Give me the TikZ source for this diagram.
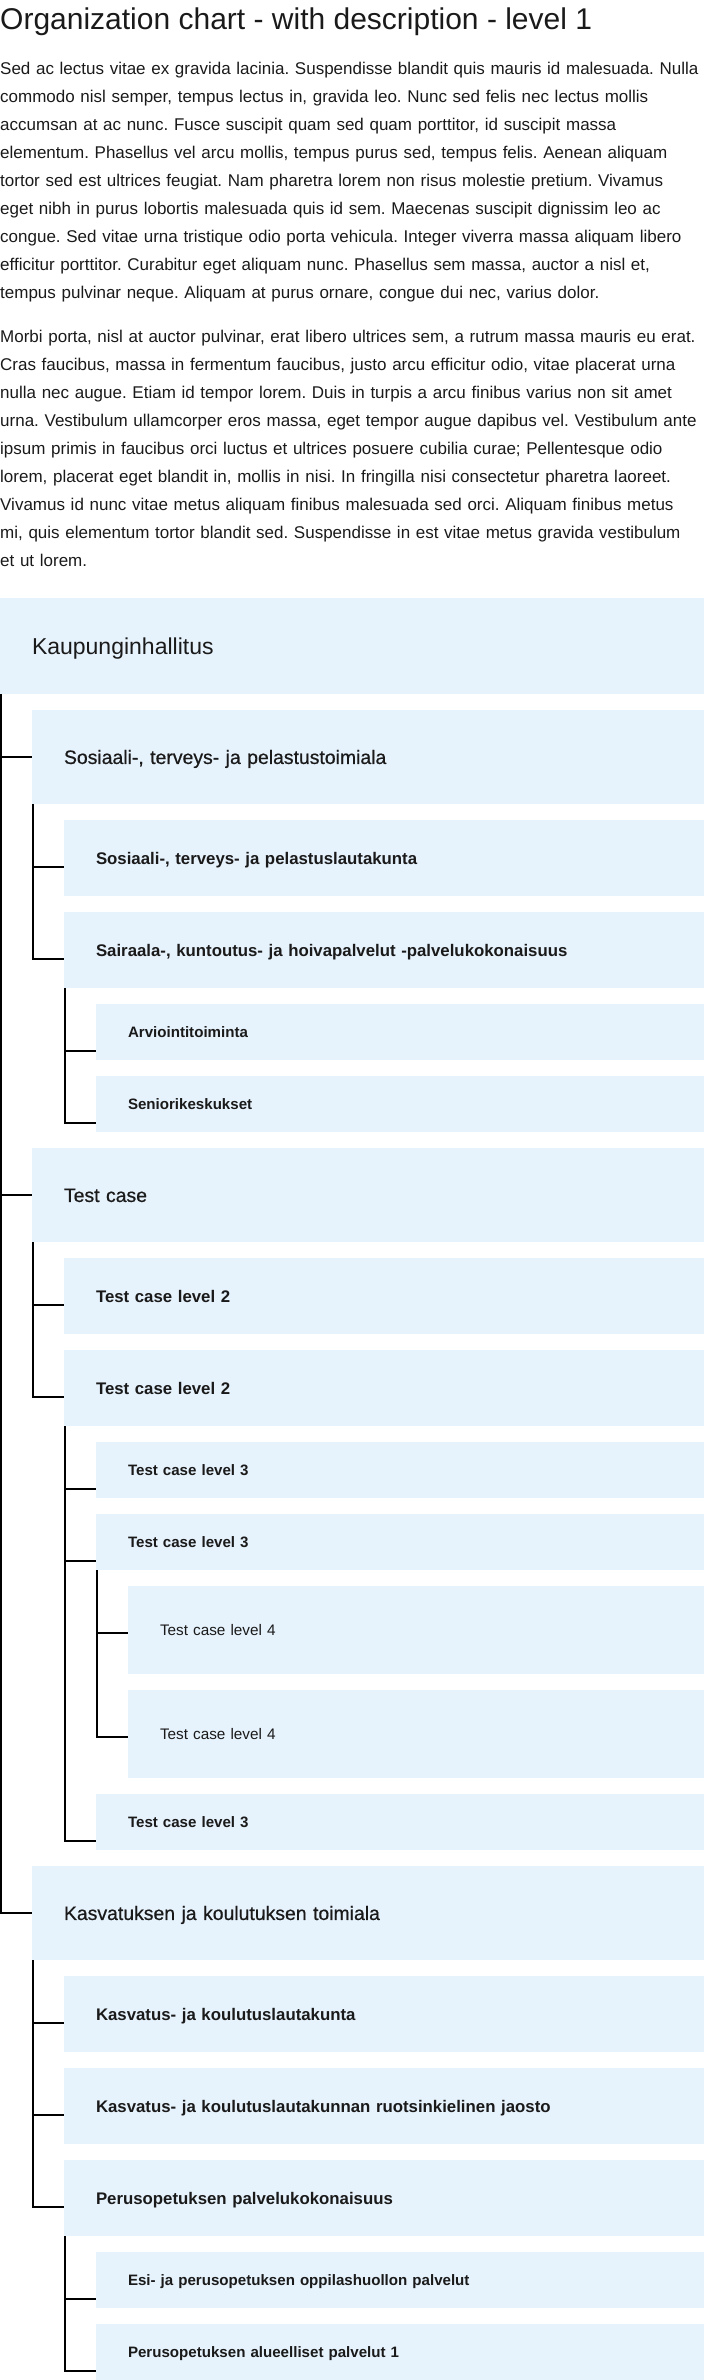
\documentclass[tikz,border=0pt]{standalone}
\usepackage{fontspec}
\setmainfont{Liberation Sans}
\newfontfamily\medfont[FakeBold=0.6]{Liberation Sans}
\usetikzlibrary{positioning}
\definecolor{boxblue}{HTML}{E6F2FC}
\definecolor{ink}{HTML}{1A1A1A}
\frenchspacing

\begin{document}
\begin{tikzpicture}[x=1pt, y=1pt,
  box/.style={fill=boxblue, text=ink, inner xsep=32pt, inner ysep=0pt,
    outer sep=0pt, align=left, text depth=0pt},
  lvzero/.style={box, text width=640pt, minimum height=96pt, text height=16.5pt,
    font=\fontsize{23}{28}\selectfont},
  lvone/.style={box, text width=608pt, minimum height=94pt, text height=13.9pt,
    font=\medfont\fontsize{19.4}{24}\selectfont},
  lvtwo/.style={box, text width=576pt, minimum height=76pt, text height=12pt,
    font=\bfseries\fontsize{16.8}{20}\selectfont},
  lvthree/.style={box, text width=544pt, minimum height=56pt, text height=10.8pt,
    font=\bfseries\fontsize{15.1}{18}\selectfont},
  lvfour/.style={box, text width=512pt, minimum height=88pt, text height=11pt,
    font=\fontsize{15.3}{18}\selectfont},
  belowof/.style={below=16pt of #1.south west, anchor=north west},
  link/.style={draw=black, line width=2pt},
  bodytext/.style={text=ink, inner sep=0pt, align=left, text width=720pt,
    anchor=base west, font=\fontsize{17}{28}\selectfont}]
  \useasboundingbox (0,0) rectangle (704,-2380);

  \node[text=ink, inner sep=0pt, anchor=base west, font=\fontsize{30}{36}\selectfont]
    (title) at (0,-29.5) {Organization chart - with description - level 1};
  \node[bodytext] (intro) at (0,-74) {%
    Sed ac lectus vitae ex gravida lacinia. Suspendisse blandit quis mauris id malesuada. Nulla\\
    commodo nisl semper, tempus lectus in, gravida leo. Nunc sed felis nec lectus mollis\\
    accumsan at ac nunc. Fusce suscipit quam sed quam porttitor, id suscipit massa\\
    elementum. Phasellus vel arcu mollis, tempus purus sed, tempus felis. Aenean aliquam\\
    tortor sed est ultrices feugiat. Nam pharetra lorem non risus molestie pretium. Vivamus\\
    eget nibh in purus lobortis malesuada quis id sem. Maecenas suscipit dignissim leo ac\\
    congue. Sed vitae urna tristique odio porta vehicula. Integer viverra massa aliquam libero\\
    efficitur porttitor. Curabitur eget aliquam nunc. Phasellus sem massa, auctor a nisl et,\\
    tempus pulvinar neque. Aliquam at purus ornare, congue dui nec, varius dolor.};
  \node[bodytext] (morbi) at (0,-342) {%
    Morbi porta, nisl at auctor pulvinar, erat libero ultrices sem, a rutrum massa mauris eu erat.\\
    Cras faucibus, massa in fermentum faucibus, justo arcu efficitur odio, vitae placerat urna\\
    nulla nec augue. Etiam id tempor lorem. Duis in turpis a arcu finibus varius non sit amet\\
    urna. Vestibulum ullamcorper eros massa, eget tempor augue dapibus vel. Vestibulum ante\\
    ipsum primis in faucibus orci luctus et ultrices posuere cubilia curae; Pellentesque odio\\
    lorem, placerat eget blandit in, mollis in nisi. In fringilla nisi consectetur pharetra laoreet.\\
    Vivamus id nunc vitae metus aliquam finibus malesuada sed orci. Aliquam finibus metus\\
    mi, quis elementum tortor blandit sed. Suspendisse in est vitae metus gravida vestibulum\\
    et ut lorem.};

  % level 0
  \node[lvzero, anchor=north west] (kh) at (0,-598) {Kaupunginhallitus};
  % sote
  \node[lvone, belowof=kh, xshift=32pt] (sote) {Sosiaali-, terveys- ja pelastustoimiala};
  \node[lvtwo, belowof=sote, xshift=32pt] (sotelk) {Sosiaali-, terveys- ja pelastuslautakunta};
  \node[lvtwo, belowof=sotelk] (sairaala) {Sairaala-, kuntoutus- ja hoivapalvelut -palvelukokonaisuus};
  \node[lvthree, belowof=sairaala, xshift=32pt] (arvio) {Arviointitoiminta};
  \node[lvthree, belowof=arvio] (seniori) {Seniorikeskukset};
  % test case
  \node[lvone, belowof=seniori, xshift=-64pt] (tc) {Test case};
  \node[lvtwo, belowof=tc, xshift=32pt] (tcA) {Test case level 2};
  \node[lvtwo, belowof=tcA] (tcB) {Test case level 2};
  \node[lvthree, belowof=tcB, xshift=32pt] (tcBa) {Test case level 3};
  \node[lvthree, belowof=tcBa] (tcBb) {Test case level 3};
  \node[lvfour, belowof=tcBb, xshift=32pt] (tcBba) {Test case level 4};
  \node[lvfour, belowof=tcBba] (tcBbb) {Test case level 4};
  \node[lvthree, belowof=tcBbb, xshift=-32pt] (tcBc) {Test case level 3};
  % kasvatus
  \node[lvone, belowof=tcBc, xshift=-64pt] (kasko) {Kasvatuksen ja koulutuksen toimiala};
  \node[lvtwo, belowof=kasko, xshift=32pt] (kaslk) {Kasvatus- ja koulutuslautakunta};
  \node[lvtwo, belowof=kaslk] (jaosto) {Kasvatus- ja koulutuslautakunnan ruotsinkielinen jaosto};
  \node[lvtwo, belowof=jaosto] (perus) {Perusopetuksen palvelukokonaisuus};
  \node[lvthree, belowof=perus, xshift=32pt] (esi) {Esi- ja perusopetuksen oppilashuollon palvelut};
  \node[lvthree, belowof=esi] (alue) {Perusopetuksen alueelliset palvelut 1};

  % connectors
  \draw[link] ([xshift=1pt]kh.south west) |- ([yshift=-47pt]sote.north west)
    ([xshift=1pt]kh.south west) |- ([yshift=-47pt]tc.north west)
    ([xshift=1pt]kh.south west) |- ([yshift=-47pt]kasko.north west);
  \draw[link] ([xshift=1pt]sote.south west) |- ([yshift=-47pt]sotelk.north west)
    ([xshift=1pt]sote.south west) |- ([yshift=-47pt]sairaala.north west);
  \draw[link] ([xshift=1pt]sairaala.south west) |- ([yshift=-47pt]arvio.north west)
    ([xshift=1pt]sairaala.south west) |- ([yshift=-47pt]seniori.north west);
  \draw[link] ([xshift=1pt]tc.south west) |- ([yshift=-47pt]tcA.north west)
    ([xshift=1pt]tc.south west) |- ([yshift=-47pt]tcB.north west);
  \draw[link] ([xshift=1pt]tcB.south west) |- ([yshift=-47pt]tcBa.north west)
    ([xshift=1pt]tcB.south west) |- ([yshift=-47pt]tcBb.north west)
    ([xshift=1pt]tcB.south west) |- ([yshift=-47pt]tcBc.north west);
  \draw[link] ([xshift=1pt]tcBb.south west) |- ([yshift=-47pt]tcBba.north west)
    ([xshift=1pt]tcBb.south west) |- ([yshift=-47pt]tcBbb.north west);
  \draw[link] ([xshift=1pt]kasko.south west) |- ([yshift=-47pt]kaslk.north west)
    ([xshift=1pt]kasko.south west) |- ([yshift=-47pt]jaosto.north west)
    ([xshift=1pt]kasko.south west) |- ([yshift=-47pt]perus.north west);
  \draw[link] ([xshift=1pt]perus.south west) |- ([yshift=-47pt]esi.north west)
    ([xshift=1pt]perus.south west) |- ([yshift=-47pt]alue.north west);
\end{tikzpicture}
\end{document}
